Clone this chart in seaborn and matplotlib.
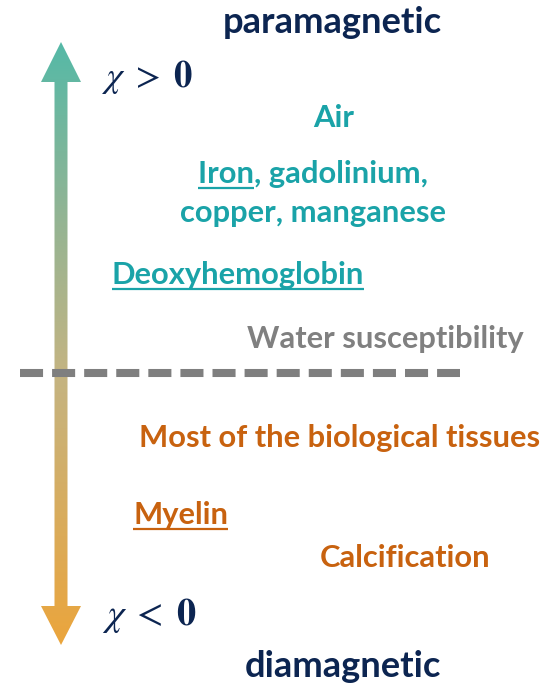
import numpy as np
import matplotlib
matplotlib.use("Agg")
import matplotlib.pyplot as plt
import seaborn as sns
from matplotlib.patches import Polygon
from matplotlib.colors import LinearSegmentedColormap

sns.set_theme(style="white")
plt.rcParams['font.family'] = ['Lato', 'DejaVu Sans']
plt.rcParams['mathtext.fontset'] = 'stix'
plt.rcParams['lines.scale_dashes'] = False

W, H = 558, 692
NAVY = "#0c2551"
TEAL = "#1aa3a8"
ORANGE = "#c8620f"
GRAY = "#808080"

# text labels (content), their colour group and underline portion
labels = ["paramagnetic", "Air", "Iron, gadolinium,", "copper, manganese",
          "Deoxyhemoglobin", "Water susceptibility",
          "Most of the biological tissues", "Myelin", "Calcification", "diamagnetic"]
label_colors = [NAVY, TEAL, TEAL, TEAL, TEAL, GRAY, ORANGE, ORANGE, ORANGE, NAVY]
underlined = [None, None, "Iron", None, "Deoxyhemoglobin", None, None, "Myelin", None, None]
is_title = [True, False, False, False, False, False, False, False, False, True]
# layout: left edge, right edge, baseline (pixels from top)
lefts = [223, 316, 193, 180, 111, 248, 139, 133, 317, 245]
rights = [442, 351, 433, 445, 365, 523, 540, 228, 493, 441]
baselines = [33, 127, 183, 222, 284, 348, 447, 524, 567, 677]

chi_labels = [r"$\chi\;>\;\mathbf{0}$", r"$\chi\;<\;\mathbf{0}$"]
chi_lefts = [102, 102]
chi_rights = [193, 197]
chi_baselines = [87, 625]

fig = plt.figure(figsize=(W / 100, H / 100), dpi=100)
ax = fig.add_axes([0, 0, 1, 1])
ax.set_xlim(0, W)
ax.set_ylim(H, 0)
ax.axis("off")

# gradient double arrow
arrow_pts = [(61, 42), (81, 82), (67.5, 82), (67.5, 606), (81, 606), (61, 645),
             (41, 606), (54.5, 606), (54.5, 82), (41, 82)]
poly = Polygon(arrow_pts, closed=True, facecolor="none", edgecolor="none")
ax.add_patch(poly)
cmap = LinearSegmentedColormap.from_list(
    "grad", [(0.0, "#55b9a7"), (0.30, "#95b493"), (0.55, "#c4b482"), (1.0, "#eba53c")])
grad = np.linspace(0, 1, 256).reshape(-1, 1)
im = ax.imshow(grad, cmap=cmap, extent=(41, 81, 645, 42), origin="upper",
               aspect="auto", zorder=1, interpolation="bilinear")
im.set_clip_path(poly)
ax.set_xlim(0, W)
ax.set_ylim(H, 0)

# dashed separator (water susceptibility level)
ax.plot([20, 460], [373, 373], color="#7f7f7f", lw=5.8, dashes=(16.6, 6.5),
        solid_capstyle="butt", dash_capstyle="butt", zorder=3)

fig.canvas.draw()
renderer = fig.canvas.get_renderer()


def px_width(t):
    return t.get_window_extent(renderer).width


# measure fitted font sizes, then use a common size per group
fitted = []
for lab, x0, x1 in zip(labels, lefts, rights):
    t = ax.text(0, 0, lab, fontsize=20, fontweight="bold")
    fitted.append(20 * (x1 - x0) / px_width(t))
    t.remove()
body_fs = float(np.median([f for f, tt in zip(fitted, is_title) if not tt]))
title_fs = float(np.mean([f for f, tt in zip(fitted, is_title) if tt]))

for lab, col, ul, x0, x1, yb, tt in zip(labels, label_colors, underlined,
                                        lefts, rights, baselines, is_title):
    fs = title_fs if tt else body_fs
    xc = (x0 + x1) / 2
    t = ax.text(xc, yb, lab, color=col, fontsize=fs, fontweight="bold",
                ha="center", va="baseline", zorder=4)
    if ul is not None:
        bb = t.get_window_extent(renderer)
        left = ax.transData.inverted().transform((bb.x0, bb.y0))[0]
        tmp = ax.text(0, 0, ul, fontsize=fs, fontweight="bold")
        uw = px_width(tmp)
        tmp.remove()
        ax.plot([left, left + uw], [yb + 4.5, yb + 4.5], color=col, lw=1.6,
                solid_capstyle="butt", zorder=4)

for lab, x0, x1, yb in zip(chi_labels, chi_lefts, chi_rights, chi_baselines):
    t = ax.text(x0, yb, lab, color=NAVY, fontsize=24, ha="left", va="baseline", zorder=4)
    t.set_fontsize(24 * (x1 - x0) / px_width(t))

fig.savefig("out.png", dpi=100, facecolor="white")
